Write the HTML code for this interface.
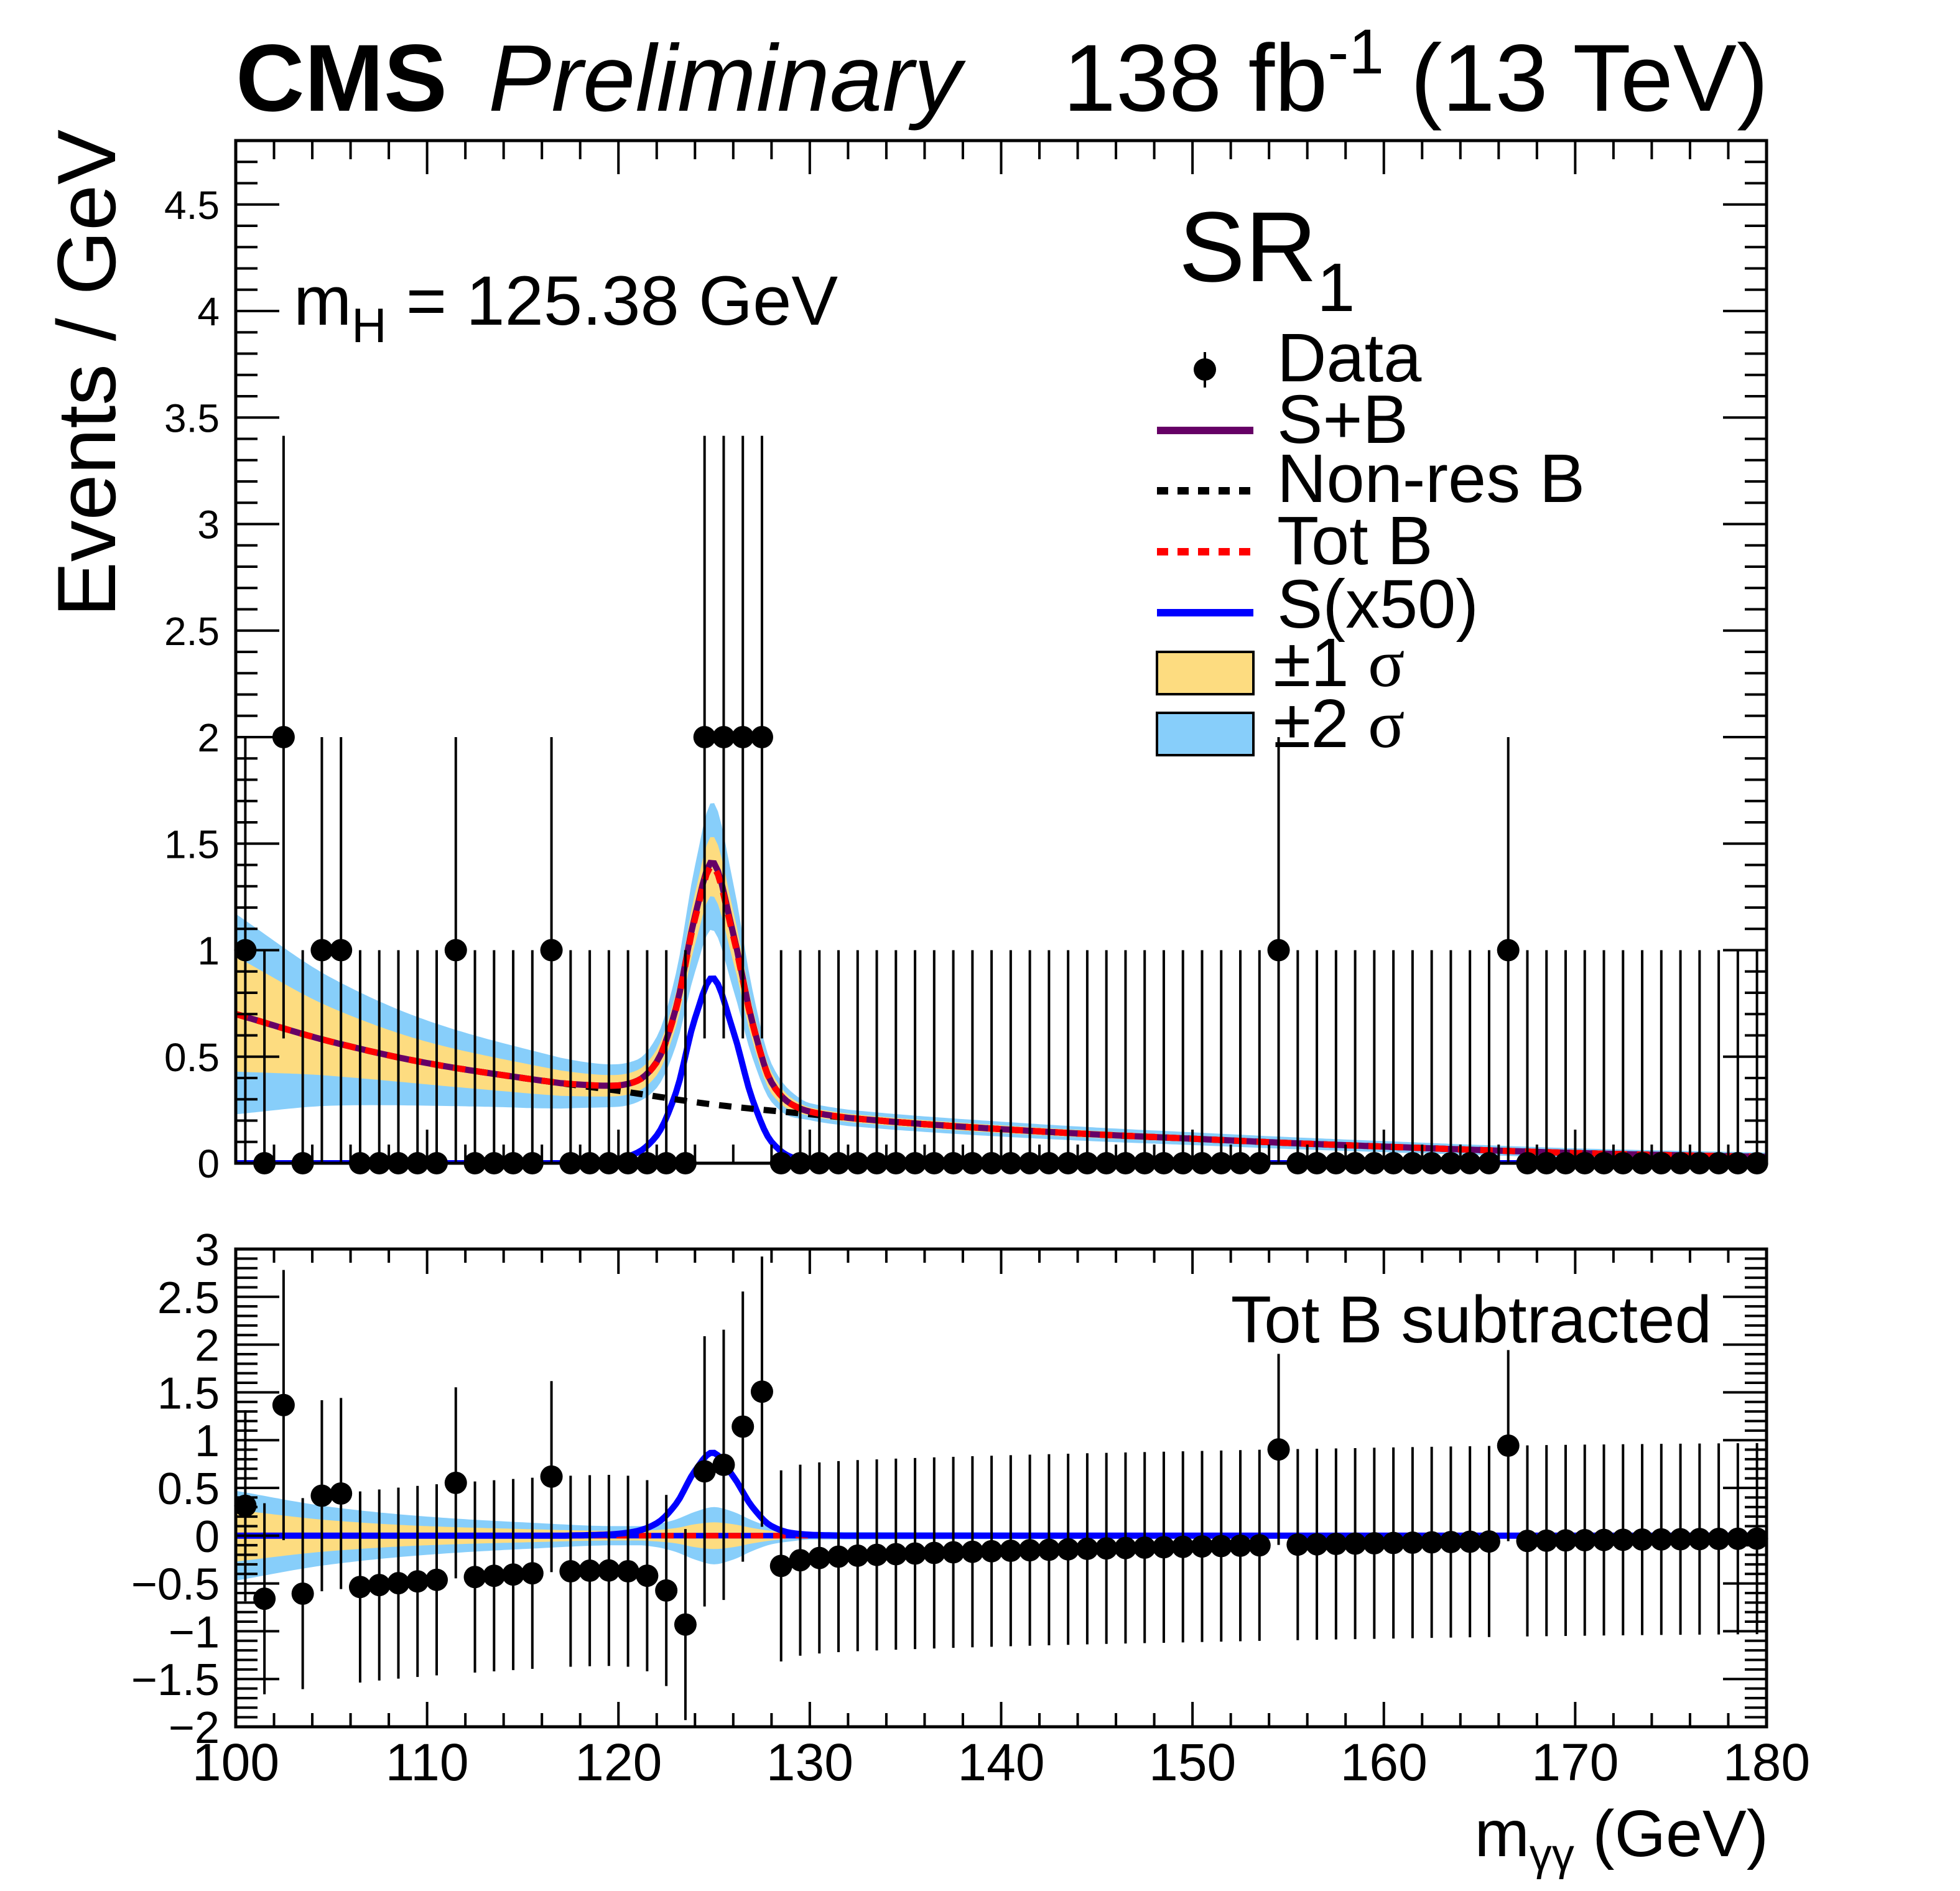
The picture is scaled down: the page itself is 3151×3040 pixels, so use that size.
<!DOCTYPE html>
<html><head><meta charset="utf-8"><style>
html,body{margin:0;padding:0;background:#fff;}
svg{display:block;font-family:"Liberation Sans",sans-serif;}
</style></head><body>
<svg id="chart" xmlns="http://www.w3.org/2000/svg" width="3151" height="3040" viewBox="0 0 3151 3040">
<rect width="3151" height="3040" fill="#fff"/>
<g id="bands"></g>
<g id="curves"></g>
<g id="points"></g>
<g id="axes"></g>
<text x="379" y="178" font-size="153" font-weight="bold">CMS</text>
<text x="785" y="178" font-size="152" font-style="italic">Preliminary</text>
<text x="2843" y="178" font-size="153" text-anchor="end">138 fb<tspan font-size="102" dy="-60">-1</tspan><tspan dy="60"> (13 TeV)</tspan></text>
<text x="472" y="522" font-size="112">m<tspan font-size="78" dy="28">H</tspan><tspan dy="-28"> = 125.38 GeV</tspan></text>
<text x="1895" y="452" font-size="160">SR<tspan font-size="110" dy="48">1</tspan></text>
<text transform="translate(185,600) rotate(-90)" font-size="133" text-anchor="middle">Events / GeV</text>
<text x="2843" y="2984" font-size="106" text-anchor="end">m<tspan font-size="72" dy="22">γγ</tspan><tspan dy="-22"> (GeV)</tspan></text>
<text x="2752" y="2158" font-size="107" text-anchor="end">Tot B subtracted</text>
<g id="legend">
 <g>
  <line x1="1937" y1="566" x2="1937" y2="623" stroke="#000" stroke-width="4"/>
  <circle cx="1937" cy="594" r="18"/>
  <text x="2053" y="613" font-size="110">Data</text></g>
 <g>
  <line x1="1860" y1="692" x2="2015" y2="692" stroke="#660066" stroke-width="12"/>
  <text x="2053" y="712" font-size="110">S+B</text></g>
 <g>
  <line x1="1860" y1="789" x2="2015" y2="789" stroke="#000" stroke-width="12" stroke-dasharray="18,15"/>
  <text x="2053" y="807" font-size="110">Non-res B</text></g>
 <g>
  <line x1="1860" y1="887" x2="2015" y2="887" stroke="#f00" stroke-width="12" stroke-dasharray="18,15"/>
  <text x="2053" y="907" font-size="110">Tot B</text></g>
 <g>
  <line x1="1860" y1="985" x2="2015" y2="985" stroke="#00f" stroke-width="12"/>
  <text x="2053" y="1009" font-size="110">S(x50)</text></g>
 <g>
  <rect x="1860" y="1048" width="155" height="68" fill="#fddc80" stroke="#000" stroke-width="4"/>
  <text x="2047" y="1103" font-size="110">±1 <tspan font-family="'Liberation Serif',serif">σ</tspan></text></g>
 <g>
  <rect x="1860" y="1146" width="155" height="68" fill="#87cefa" stroke="#000" stroke-width="4"/>
  <text x="2047" y="1201" font-size="110">±2 <tspan font-family="'Liberation Serif',serif">σ</tspan></text></g>
</g>
</svg>
<script>
// ---- data ----
const binCenters = [];
for (let i = 0; i < 80; i++) binCenters.push(100.5 + i);
const counts = [1,0,2,0,1,1,0,0,0,0,0,1,0,0,0,0,1,0,0,0,0,0,0,0,2,2,2,2,
 0,0,0,0,0,0,0,0,0,0,0,0,0,0,0,0,0,0,0,0,0,0,0,0,0,0,1,
 0,0,0,0,0,0,0,0,0,0,0,1,0,0,0,0,0,0,0,0,0,0,0,0,0];
const nonresX = [100,105,110,115,120,125,130,135,140,145,150,155,160,165,170,175,180];
const nonresY = [0.70,0.57,0.47,0.40,0.34,0.275,0.23,0.19,0.16,0.135,0.115,0.095,0.078,0.062,0.048,0.038,0.03];
const resX = [117,118,119,120,121,122,123,124,124.9,126,127,128,129,130,131,132];
const resY = [0,0.005,0.012,0.025,0.06,0.16,0.42,0.86,1.12,0.8,0.4,0.13,0.04,0.012,0.004,0];
const sigX = [117,118,119,120,121,122,123,124,124.9,126,127,128,129,130,131,132];
const sigY = [0,0.004,0.009,0.02,0.05,0.13,0.33,0.68,0.87,0.62,0.3,0.1,0.03,0.01,0.003,0];
const bandX = [100,105,110,115,120,121,122,123,124,125,126,127,128,129,130,140,150,160,170,180];
const band1 = [0.27,0.16,0.1,0.07,0.05,0.05,0.06,0.08,0.12,0.14,0.12,0.08,0.05,0.03,0.02,0.018,0.015,0.013,0.011,0.01];
const band2 = [0.47,0.3,0.2,0.14,0.1,0.1,0.12,0.17,0.25,0.3,0.25,0.16,0.09,0.06,0.04,0.035,0.03,0.026,0.022,0.02];
const yTicksTop = [0,0.5,1,1.5,2,2.5,3,3.5,4,4.5];
const yTicksBot = [-2,-1.5,-1,-0.5,0,0.5,1,1.5,2,2.5,3];
const xTicks = [100,110,120,130,140,150,160,170,180];

// ---- axes ----
const L = 379, R = 2840, T1 = 226, B1 = 1870, T2 = 2008, B2 = 2776;
const X = v => L + (v - 100) * (R - L) / 80;
const YU = v => B1 - v * (B1 - T1) / 4.8;
const YL = v => T2 + (3 - v) * (B2 - T2) / 5;
const NS = "http://www.w3.org/2000/svg";
function mk(tag, attrs, parent) { const e = document.createElementNS(NS, tag); for (const k in attrs) e.setAttribute(k, attrs[k]); parent.appendChild(e); return e; }
// monotone cubic interpolation
function interp(xs, ys, x) {
  const n = xs.length;
  if (x <= xs[0]) return ys[0]; if (x >= xs[n-1]) return ys[n-1];
  let i = 0; while (x > xs[i+1]) i++;
  const d = []; for (let k = 0; k < n-1; k++) d.push((ys[k+1]-ys[k])/(xs[k+1]-xs[k]));
  const m = k => { if (k === 0) return d[0]; if (k === n-1) return d[n-2]; if (d[k-1]*d[k] <= 0) return 0; return 2/(1/d[k-1]+1/d[k]); };
  const h = xs[i+1]-xs[i], t = (x-xs[i])/h, t2 = t*t, t3 = t2*t;
  return (2*t3-3*t2+1)*ys[i] + (t3-2*t2+t)*h*m(i) + (-2*t3+3*t2)*ys[i+1] + (t3-t2)*h*m(i+1);
}
const nonres = x => interp(nonresX, nonresY, x);
const res = x => (x < resX[0] || x > resX[resX.length-1]) ? 0 : interp(resX, resY, x);
const sig = x => (x < sigX[0] || x > sigX[sigX.length-1]) ? 0 : interp(sigX, sigY, x);
const totB = x => nonres(x) + res(x);
const samples = []; for (let x = 100; x <= 180.0001; x += 0.2) samples.push(x);

const gB = document.getElementById('bands'), gC = document.getElementById('curves'), gP = document.getElementById('points'), gA = document.getElementById('axes');
function bandPath(center, w, Y) {
  const up = samples.map(x => X(x).toFixed(1) + ',' + Y(center(x) + interp(bandX, w, x)).toFixed(1));
  const dn = samples.slice().reverse().map(x => X(x).toFixed(1) + ',' + Y(center(x) - interp(bandX, w, x)).toFixed(1));
  return 'M' + up.join('L') + 'L' + dn.join('L') + 'Z';
}
function linePath(f, Y) { return 'M' + samples.map(x => X(x).toFixed(1) + ',' + Y(f(x)).toFixed(1)).join('L'); }
const clipU = mk('clipPath', {id: 'cu'}, gB); mk('rect', {x: L, y: T1, width: R-L, height: B1-T1}, clipU);
const clipL = mk('clipPath', {id: 'cl'}, gB); mk('rect', {x: L, y: T2, width: R-L, height: B2-T2}, clipL);

let e;
e = mk('path', {d: bandPath(totB, band2, YU), fill: '#87cefa', 'clip-path': 'url(#cu)'}, gB);
 
e = mk('path', {d: bandPath(totB, band1, YU), fill: '#fddc80', 'clip-path': 'url(#cu)'}, gB);
 
e = mk('path', {d: bandPath(x => 0, band2, YL), fill: '#87cefa', 'clip-path': 'url(#cl)'}, gB);
 
e = mk('path', {d: bandPath(x => 0, band1, YL), fill: '#fddc80', 'clip-path': 'url(#cl)'}, gB);
 

e = mk('line', {x1: L, y1: B1, x2: R, y2: B1, stroke: '#000', 'stroke-width': 3}, gC);
 
e = mk('path', {d: linePath(sig, YU), fill: 'none', stroke: '#00f', 'stroke-width': 10, 'clip-path': 'url(#cu)'}, gC);
 
e = mk('path', {d: linePath(x => nonres(x), YU), fill: 'none', stroke: '#000', 'stroke-width': 10, 'stroke-dasharray': '20,16'}, gC);
 
e = mk('path', {d: linePath(x => totB(x) + sig(x) * 0.02, YU), fill: 'none', stroke: '#660066', 'stroke-width': 10}, gC);
 
e = mk('path', {d: linePath(totB, YU), fill: 'none', stroke: '#f00', 'stroke-width': 10, 'stroke-dasharray': '20,16'}, gC);
 
e = mk('path', {d: linePath(x => 0, YL), fill: 'none', stroke: '#00f', 'stroke-width': 9}, gC);
 
e = mk('path', {d: linePath(x => 0, YL), fill: 'none', stroke: '#f00', 'stroke-width': 9, 'stroke-dasharray': '20,16'}, gC);
 
e = mk('path', {d: linePath(sig, YL), fill: 'none', stroke: '#00f', 'stroke-width': 10}, gC);
 

// data points
counts.forEach((n, i) => {
  const x = binCenters[i], err = n > 0 ? Math.sqrt(n) : 1;
  const g = mk('g', {}, gP);
  
  
  mk('line', {x1: X(x), x2: X(x), y1: YU(n + err), y2: Math.min(B1, YU(Math.max(0, n - err))), stroke: '#000', 'stroke-width': 4}, g);
  mk('circle', {cx: X(x), cy: YU(n), r: 18}, g);
  const r = n - totB(x);
  const g2 = mk('g', {}, gP);
  
  
  mk('line', {x1: X(x), x2: X(x), y1: Math.max(T2, YL(r + err)), y2: Math.min(B2, YL(r - err)), stroke: '#000', 'stroke-width': 4}, g2);
  mk('circle', {cx: X(x), cy: YL(r), r: 18}, g2);
});

// frames and ticks
function frame(top, bot, name) {
  const f = mk('rect', {x: L, y: top, width: R-L, height: bot-top, fill: 'none', stroke: '#000', 'stroke-width': 5}, gA);
   
}
frame(T1, B1, 'upper-frame'); frame(T2, B2, 'lower-frame');
function xticks(top, bot, maj, min) {
  for (let v = 100; v <= 180; v += 2) {
    const len = v % 10 === 0 ? maj : min;
    mk('line', {x1: X(v), x2: X(v), y1: bot, y2: bot - len, stroke: '#000', 'stroke-width': 4}, gA);
    mk('line', {x1: X(v), x2: X(v), y1: top, y2: top + len, stroke: '#000', 'stroke-width': 4}, gA);
  }
}
xticks(T1, B1, 54, 30); xticks(T2, B2, 40, 22);
for (let k = 0; k <= 48; k++) {
  const v = k / 10, len = k % 5 === 0 ? 70 : 35, y = YU(v);
  mk('line', {x1: L, x2: L + len, y1: y, y2: y, stroke: '#000', 'stroke-width': 4}, gA);
  mk('line', {x1: R, x2: R - len, y1: y, y2: y, stroke: '#000', 'stroke-width': 4}, gA);
}
for (let k = -20; k <= 30; k++) {
  const v = k / 10, len = k % 5 === 0 ? 70 : 35, y = YL(v);
  mk('line', {x1: L, x2: L + len, y1: y, y2: y, stroke: '#000', 'stroke-width': 4}, gA);
  mk('line', {x1: R, x2: R - len, y1: y, y2: y, stroke: '#000', 'stroke-width': 4}, gA);
}
yTicksTop.forEach(v => {
  const t = mk('text', {x: 353, y: YU(v) + 23, 'font-size': 64, 'text-anchor': 'end'}, gA);
   
  t.textContent = String(v);
});
yTicksBot.forEach(v => {
  const t = mk('text', {x: 353, y: YL(v) + 26, 'font-size': 72, 'text-anchor': 'end'}, gA);
   
  t.textContent = String(v).replace('-', '−');
});
xTicks.forEach(v => {
  const t = mk('text', {x: X(v), y: 2862, 'font-size': 84, 'text-anchor': 'middle'}, gA);
   
  t.textContent = String(v);
});
</script>
</body></html>
